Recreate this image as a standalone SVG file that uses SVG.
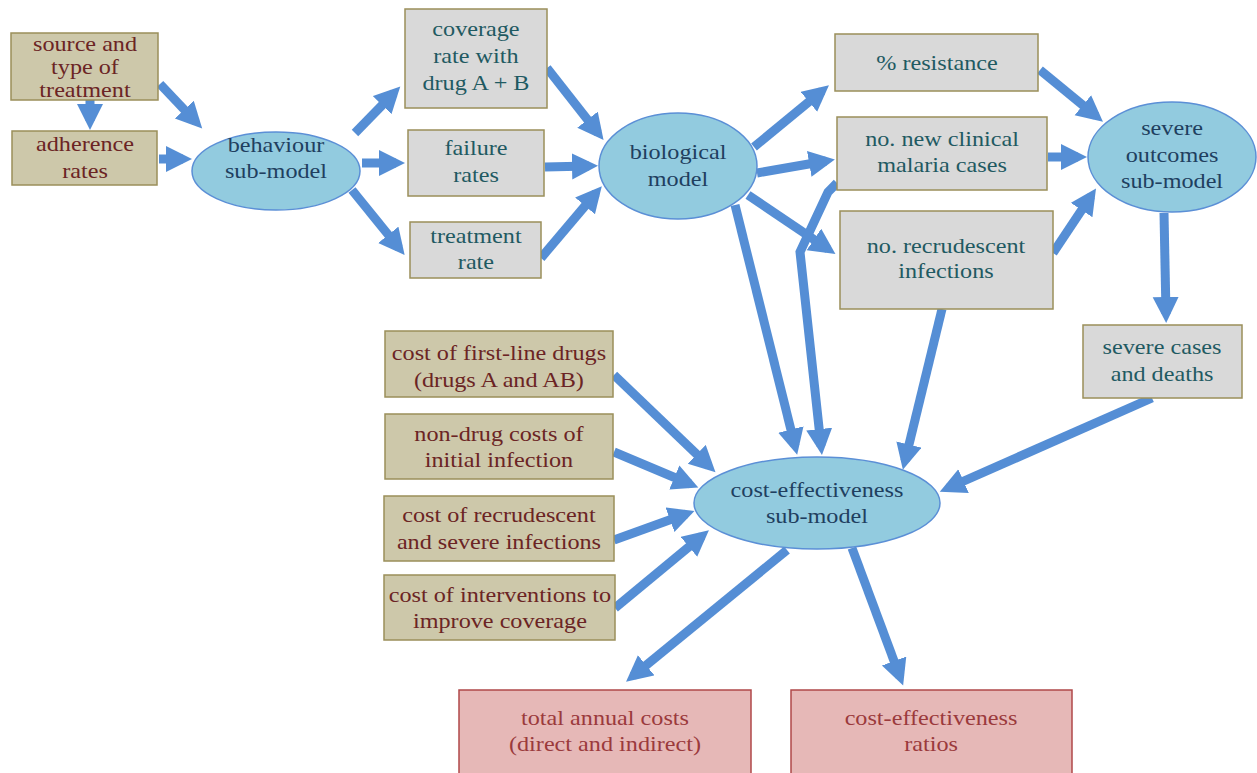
<svg xmlns="http://www.w3.org/2000/svg" width="1257" height="773" viewBox="0 0 1257 773">
<style>
.tan{fill:#cdc8aa;stroke:#9a8f5a;stroke-width:1.5}
.gray{fill:#d9d9d9;stroke:#9a8f5a;stroke-width:1.5}
.pink{fill:#e6b8b7;stroke:#b0484a;stroke-width:1.5}
.ell{fill:#92cbdf;stroke:#5b8fd6;stroke-width:1.5}
.tt{fill:#6b2424}
.gt{fill:#1f5a62}
.et{fill:#1f3f5f}
.pt{fill:#9b3a3c}
.c{fill:none;stroke:#558ed5;stroke-width:9;marker-end:url(#ah)}
</style>
<defs>
<marker id="ah" markerUnits="userSpaceOnUse" markerWidth="30" markerHeight="30" refX="17" refY="13" orient="auto">
<path d="M0,0 L26,13 L0,26 Z" fill="#558ed5"/>
</marker>
</defs>
<g id="connectors">
<path class="c" d="M160,84 L196,122"/>
<path class="c" d="M90,100 L90,121"/>
<path class="c" d="M159,159 L183,159"/>
<path class="c" d="M355,133 L394,93"/>
<path class="c" d="M362,163 L396,163"/>
<path class="c" d="M352,190 L399,248"/>
<path class="c" d="M547,68 L598,133"/>
<path class="c" d="M545,167 L589,166"/>
<path class="c" d="M541,258 L596,193"/>
<path class="c" d="M754,147 L822,91"/>
<path class="c" d="M757,173 L826,161"/>
<path class="c" d="M748,195 L828,249"/>
<path class="c" d="M1040,70 L1096,116"/>
<path class="c" d="M1048,157 L1078,157"/>
<path class="c" d="M1053,253 L1091,196"/>
<path class="c" d="M1164,213 L1166,314"/>
<path class="c" d="M735,205 L795,446"/>
<path class="c" d="M837,183 L828,192 L800,252 L821,446"/>
<path class="c" d="M942,309 L905,461"/>
<path class="c" d="M1152,398 L948,488"/>
<path class="c" d="M614,375 L709,466"/>
<path class="c" d="M614,452 L690,484"/>
<path class="c" d="M614,540 L686,514"/>
<path class="c" d="M615,608 L702,536"/>
<path class="c" d="M787,550 L633,676"/>
<path class="c" d="M852,548 L900,677"/>
</g>
<g font-family="Liberation Serif, serif" font-size="22" text-anchor="middle">
<g id="source"><rect class="tan" x="11" y="33" width="147" height="67"/><text class="tt" transform="scale(1.1,1)"><tspan x="77.3" y="51">source and</tspan><tspan x="77.3" y="74">type of</tspan><tspan x="77.3" y="97">treatment</tspan></text></g>
<g id="adherence"><rect class="tan" x="12" y="131" width="145" height="54"/><text class="tt" transform="scale(1.1,1)"><tspan x="77.3" y="151">adherence</tspan><tspan x="77.3" y="178">rates</tspan></text></g>
<g id="behaviour"><ellipse class="ell" cx="276" cy="171" rx="84" ry="39"/><text class="et" transform="scale(1.1,1)"><tspan x="250.9" y="152">behaviour</tspan><tspan x="250.9" y="178">sub-model</tspan></text></g>
<g id="coverage"><rect class="gray" x="405" y="9" width="142" height="99"/><text class="gt" transform="scale(1.1,1)"><tspan x="432.7" y="36">coverage</tspan><tspan x="432.7" y="63">rate with</tspan><tspan x="432.7" y="90">drug A + B</tspan></text></g>
<g id="failure"><rect class="gray" x="408" y="130" width="136" height="66"/><text class="gt" transform="scale(1.1,1)"><tspan x="432.7" y="155">failure</tspan><tspan x="432.7" y="182">rates</tspan></text></g>
<g id="treatment"><rect class="gray" x="410" y="222" width="131" height="56"/><text class="gt" transform="scale(1.1,1)"><tspan x="432.7" y="243">treatment</tspan><tspan x="432.7" y="269">rate</tspan></text></g>
<g id="biological"><ellipse class="ell" cx="678" cy="166" rx="79" ry="53"/><text class="et" transform="scale(1.1,1)"><tspan x="616.4" y="159">biological</tspan><tspan x="616.4" y="186">model</tspan></text></g>
<g id="resistance"><rect class="gray" x="835" y="34" width="203" height="57"/><text class="gt" transform="scale(1.1,1)" x="851.8" y="70">% resistance</text></g>
<g id="clinical"><rect class="gray" x="837" y="117" width="210" height="73"/><text class="gt" transform="scale(1.1,1)"><tspan x="856.4" y="146">no. new clinical</tspan><tspan x="856.4" y="172">malaria cases</tspan></text></g>
<g id="recrudescent"><rect class="gray" x="840" y="211" width="213" height="98"/><text class="gt" transform="scale(1.1,1)"><tspan x="860" y="253">no. recrudescent</tspan><tspan x="860" y="278">infections</tspan></text></g>
<g id="severe"><ellipse class="ell" cx="1172" cy="157" rx="84" ry="55"/><text class="et" transform="scale(1.1,1)"><tspan x="1065.5" y="135">severe</tspan><tspan x="1065.5" y="162">outcomes</tspan><tspan x="1065.5" y="188">sub-model</tspan></text></g>
<g id="severecases"><rect class="gray" x="1083" y="325" width="159" height="73"/><text class="gt" transform="scale(1.1,1)"><tspan x="1056.4" y="354">severe cases</tspan><tspan x="1056.4" y="381">and deaths</tspan></text></g>
<g id="firstline"><rect class="tan" x="385" y="331" width="228" height="66"/><text class="tt" transform="scale(1.1,1)"><tspan x="453.6" y="360">cost of first-line drugs</tspan><tspan x="453.6" y="387">(drugs A and AB)</tspan></text></g>
<g id="nondrug"><rect class="tan" x="385" y="414" width="228" height="65"/><text class="tt" transform="scale(1.1,1)"><tspan x="453.6" y="441">non-drug costs of</tspan><tspan x="453.6" y="467">initial infection</tspan></text></g>
<g id="costrecru"><rect class="tan" x="384" y="496" width="230" height="65"/><text class="tt" transform="scale(1.1,1)"><tspan x="453.6" y="522">cost of recrudescent</tspan><tspan x="453.6" y="549">and severe infections</tspan></text></g>
<g id="interventions"><rect class="tan" x="384" y="575" width="231" height="65"/><text class="tt" transform="scale(1.1,1)"><tspan x="454.5" y="602">cost of interventions to</tspan><tspan x="454.5" y="628">improve coverage</tspan></text></g>
<g id="costeff"><ellipse class="ell" cx="817" cy="503" rx="123" ry="46"/><text class="et" transform="scale(1.1,1)"><tspan x="742.7" y="497">cost-effectiveness</tspan><tspan x="742.7" y="523">sub-model</tspan></text></g>
<g id="total"><rect class="pink" x="459" y="690" width="292" height="90"/><text class="pt" transform="scale(1.1,1)"><tspan x="550" y="725">total annual costs</tspan><tspan x="550" y="751">(direct and indirect)</tspan></text></g>
<g id="ratios"><rect class="pink" x="791" y="690" width="281" height="90"/><text class="pt" transform="scale(1.1,1)"><tspan x="846.4" y="725">cost-effectiveness</tspan><tspan x="846.4" y="751">ratios</tspan></text></g>
</g>
</svg>
